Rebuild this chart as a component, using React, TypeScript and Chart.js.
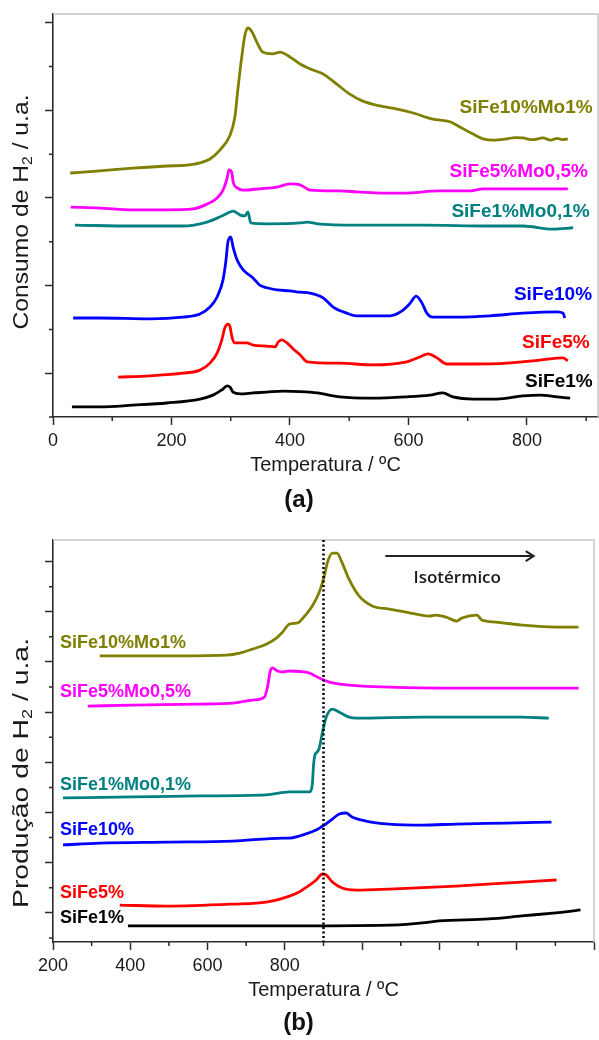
import React, { useEffect, useRef } from 'react';
import { Chart, registerables } from 'chart.js';

Chart.register(...registerables);

const FONT = "'Liberation Sans', Arial, Helvetica, sans-serif";

// ---------------- Panel (a): H2 consumption (TPR) ----------------
const aTempSiFe10Mo1 = [29, 79, 135, 192, 226, 248, 265, 282, 299, 307, 312, 319, 324, 329, 336, 344, 354, 371, 383, 400, 417, 439, 456, 479, 501, 523, 552, 581, 608, 641, 670, 687, 709, 726, 743, 766, 780, 793, 810, 827, 840, 851, 860, 869];
const aValSiFe10Mo1 = [5.57, 5.62, 5.68, 5.73, 5.75, 5.8, 5.89, 6.1, 6.44, 6.85, 7.47, 8.26, 8.72, 8.88, 8.79, 8.56, 8.33, 8.29, 8.33, 8.22, 8.06, 7.92, 7.83, 7.6, 7.37, 7.21, 7.1, 7.03, 6.94, 6.8, 6.74, 6.62, 6.46, 6.35, 6.32, 6.35, 6.38, 6.37, 6.33, 6.37, 6.32, 6.36, 6.33, 6.35];

const aTempSiFe5Mo05 = [30, 79, 135, 192, 236, 260, 277, 287, 294, 297, 302, 304, 311, 321, 349, 378, 400, 417, 434, 484, 513, 557, 591, 653, 704, 726, 793, 869];
const aValSiFe5Mo05 = [4.79, 4.77, 4.73, 4.73, 4.75, 4.86, 5.0, 5.18, 5.46, 5.64, 5.57, 5.37, 5.23, 5.18, 5.21, 5.25, 5.32, 5.3, 5.18, 5.16, 5.14, 5.11, 5.11, 5.16, 5.16, 5.21, 5.21, 5.21];

const aTempSiFe1Mo01 = [37, 135, 219, 260, 282, 299, 304, 316, 324, 329, 334, 361, 417, 429, 446, 513, 624, 738, 793, 844, 878];
const aValSiFe1Mo01 = [4.38, 4.36, 4.36, 4.45, 4.57, 4.68, 4.7, 4.61, 4.59, 4.68, 4.43, 4.41, 4.43, 4.45, 4.41, 4.38, 4.38, 4.36, 4.36, 4.29, 4.32];

const aTempSiFe10 = [34, 79, 164, 219, 248, 265, 277, 287, 292, 295, 300, 304, 311, 321, 338, 349, 361, 378, 400, 417, 434, 456, 473, 496, 513, 569, 591, 603, 613, 623, 631, 641, 682, 738, 793, 851, 861, 864];
const aValSiFe10 = [2.26, 2.26, 2.24, 2.28, 2.35, 2.51, 2.74, 3.13, 3.58, 3.97, 4.11, 3.88, 3.58, 3.36, 3.17, 3.01, 2.95, 2.9, 2.88, 2.85, 2.83, 2.72, 2.51, 2.37, 2.31, 2.31, 2.44, 2.6, 2.76, 2.6, 2.37, 2.28, 2.28, 2.31, 2.37, 2.4, 2.37, 2.26];

const aTempSiFe5 = [110, 164, 219, 248, 265, 277, 285, 290, 295, 299, 302, 307, 327, 338, 361, 375, 380, 386, 395, 405, 417, 429, 484, 540, 597, 619, 633, 648, 665, 709, 766, 822, 861, 869];
const aValSiFe5 = [0.91, 0.94, 1.0, 1.07, 1.23, 1.46, 1.76, 2.03, 2.12, 2.05, 1.83, 1.69, 1.69, 1.64, 1.62, 1.6, 1.71, 1.76, 1.69, 1.56, 1.42, 1.26, 1.23, 1.19, 1.26, 1.37, 1.44, 1.35, 1.21, 1.21, 1.23, 1.3, 1.35, 1.28];

const aTempSiFe1 = [32, 79, 135, 192, 248, 270, 285, 294, 299, 304, 316, 338, 361, 388, 417, 446, 484, 540, 597, 636, 658, 675, 709, 749, 793, 822, 851, 873];
const aValSiFe1 = [0.23, 0.23, 0.27, 0.32, 0.41, 0.5, 0.62, 0.71, 0.68, 0.57, 0.53, 0.55, 0.57, 0.59, 0.58, 0.55, 0.46, 0.43, 0.46, 0.5, 0.55, 0.46, 0.41, 0.41, 0.48, 0.5, 0.46, 0.43];

const aXMajor = [0, 200, 400, 600, 800];
const aXMinor = [100, 300, 500, 700, 900];
const aYMajor = [1, 3, 5, 7, 9];
const aYMinor = [0, 2, 4, 6, 8];

// ---------------- Panel (b): H2 production ----------------
const bTempSiFe10Mo1 = [321, 406, 535, 649, 683, 716, 752, 778, 794, 812, 830, 837, 855, 871, 889, 902, 910, 923, 935, 948, 966, 992, 1026, 1070, 1114, 1173, 1191, 1217, 1245, 1258, 1297, 1310, 1346, 1413, 1501, 1560];
const bValSiFe10Mo1 = [11.24, 11.24, 11.24, 11.27, 11.35, 11.51, 11.71, 11.95, 12.19, 12.51, 12.55, 12.59, 12.9, 13.23, 13.78, 14.42, 14.96, 15.34, 15.34, 14.96, 14.3, 13.63, 13.23, 13.11, 12.99, 12.83, 12.87, 12.79, 12.63, 12.75, 12.87, 12.67, 12.59, 12.47, 12.39, 12.39];

const bTempSiFe5Mo05 = [290, 406, 579, 665, 716, 747, 755, 763, 768, 781, 794, 812, 837, 863, 889, 915, 966, 1070, 1243, 1560];
const bValSiFe5Mo05 = [9.24, 9.28, 9.32, 9.36, 9.48, 9.6, 10.0, 10.68, 10.76, 10.64, 10.6, 10.64, 10.62, 10.56, 10.36, 10.2, 10.08, 10.0, 9.96, 9.96];

const bTempSiFe1Mo01 = [226, 406, 579, 752, 812, 863, 871, 874, 878, 883, 889, 897, 907, 923, 941, 966, 985, 1155, 1328, 1413, 1483];
const bValSiFe1Mo01 = [5.58, 5.62, 5.66, 5.7, 5.82, 5.82, 6.1, 6.85, 7.3, 7.4, 7.57, 8.17, 8.8, 9.12, 9.0, 8.8, 8.76, 8.8, 8.8, 8.8, 8.76];

const bTempSiFe10 = [226, 321, 494, 665, 794, 812, 837, 845, 881, 902, 923, 941, 959, 974, 1010, 1070, 1155, 1243, 1372, 1490];
const bValSiFe10 = [3.71, 3.78, 3.82, 3.86, 3.98, 3.98, 4.06, 4.1, 4.3, 4.5, 4.74, 4.94, 4.98, 4.82, 4.66, 4.54, 4.5, 4.54, 4.58, 4.62];

const bTempSiFe5 = [373, 494, 665, 752, 812, 837, 845, 881, 897, 907, 923, 948, 985, 1070, 1243, 1413, 1503];
const bValSiFe5 = [1.31, 1.27, 1.35, 1.43, 1.67, 1.83, 1.91, 2.31, 2.55, 2.51, 2.23, 1.99, 1.91, 1.95, 2.07, 2.23, 2.31];

const bTempSiFe1 = [394, 579, 837, 1095, 1155, 1199, 1328, 1413, 1501, 1526, 1565];
const bValSiFe1 = [0.48, 0.48, 0.48, 0.52, 0.6, 0.68, 0.76, 0.88, 1.0, 1.04, 1.12];

const bXMajor = [200, 400, 600, 800, 1000, 1200, 1400, 1600];
const bXLabels = [200, 400, 600, 800];
const bXMinor = [300, 500, 700, 900, 1100, 1300, 1500];
const bYMajor = [1, 3, 5, 7, 9, 11, 13, 15];
const bYMinor = [0, 2, 4, 6, 8, 10, 12, 14];

const OLIVE = '#808000';
const MAGENTA = '#ff00ff';
const TEAL = '#008080';
const BLUE = '#0000ff';
const RED = '#ff0000';
const BLACK = '#000000';
const AXIS = '#2b2b2b';

const seriesA = [
  { name: 'SiFe10%Mo1%', t: aTempSiFe10Mo1, v: aValSiFe10Mo1, color: OLIVE, lx: 911, ly: 7.05 },
  { name: 'SiFe5%Mo0,5%', t: aTempSiFe5Mo05, v: aValSiFe5Mo05, color: MAGENTA, lx: 903, ly: 5.59 },
  { name: 'SiFe1%Mo0,1%', t: aTempSiFe1Mo01, v: aValSiFe1Mo01, color: TEAL, lx: 906, ly: 4.68 },
  { name: 'SiFe10%', t: aTempSiFe10, v: aValSiFe10, color: BLUE, lx: 910, ly: 2.79 },
  { name: 'SiFe5%', t: aTempSiFe5, v: aValSiFe5, color: RED, lx: 906, ly: 1.69 },
  { name: 'SiFe1%', t: aTempSiFe1, v: aValSiFe1, color: BLACK, lx: 911, ly: 0.8 },
];

const seriesB = [
  { name: 'SiFe10%Mo1%', t: bTempSiFe10Mo1, v: bValSiFe10Mo1, color: OLIVE, lx: 218, ly: 11.75 },
  { name: 'SiFe5%Mo0,5%', t: bTempSiFe5Mo05, v: bValSiFe5Mo05, color: MAGENTA, lx: 218, ly: 9.8 },
  { name: 'SiFe1%Mo0,1%', t: bTempSiFe1Mo01, v: bValSiFe1Mo01, color: TEAL, lx: 218, ly: 6.1 },
  { name: 'SiFe10%', t: bTempSiFe10, v: bValSiFe10, color: BLUE, lx: 218, ly: 4.3 },
  { name: 'SiFe5%', t: bTempSiFe5, v: bValSiFe5, color: RED, lx: 218, ly: 1.79 },
  { name: 'SiFe1%', t: bTempSiFe1, v: bValSiFe1, color: BLACK, lx: 218, ly: 0.8 },
];

function drawYTitle(ctx: CanvasRenderingContext2D, cx: number, cy: number, before: string, sub: string, after: string, size: number, targetLen: number) {
  ctx.save();
  ctx.translate(cx, cy);
  ctx.rotate(-Math.PI / 2);
  const big = `${size}px ${FONT}`;
  const small = `${Math.round(size * 0.62)}px ${FONT}`;
  ctx.font = big;
  const w1 = ctx.measureText(before).width;
  const w3 = ctx.measureText(after).width;
  ctx.font = small;
  const w2 = ctx.measureText(sub).width;
  const total = w1 + w2 + w3;
  ctx.scale(targetLen / total, 1);
  ctx.fillStyle = '#1a1a1a';
  ctx.textBaseline = 'alphabetic';
  ctx.textAlign = 'left';
  const base = size * 0.36;
  let x = -total / 2;
  ctx.font = big;
  ctx.fillText(before, x, base);
  x += w1;
  ctx.font = small;
  ctx.fillText(sub, x, base + size * 0.2);
  x += w2;
  ctx.font = big;
  ctx.fillText(after, x, base);
  ctx.restore();
}

function makeDecor(p: any) {
  return {
    id: 'decor',
    afterDatasetsDraw(chart: any) {
      const { ctx, chartArea: ca, scales } = chart;
      const xs = scales.x;
      const ys = scales.y;
      ctx.save();
      // light frame top & right
      ctx.strokeStyle = '#c6c6c6';
      ctx.lineWidth = 1.5;
      ctx.beginPath();
      ctx.moveTo(ca.left, ca.top);
      ctx.lineTo(ca.right, ca.top);
      ctx.lineTo(ca.right, ca.bottom);
      ctx.stroke();
      // minor ticks
      ctx.strokeStyle = AXIS;
      ctx.lineWidth = 1.5;
      ctx.beginPath();
      for (const v of p.xMinor) {
        const px = xs.getPixelForValue(v);
        ctx.moveTo(px, ca.bottom);
        ctx.lineTo(px, ca.bottom + 4);
      }
      for (const v of p.yMinor) {
        const py = ys.getPixelForValue(v);
        ctx.moveTo(ca.left - 4, py);
        ctx.lineTo(ca.left, py);
      }
      ctx.stroke();
      // series labels
      ctx.font = `bold ${p.labelSize}px ${FONT}`;
      ctx.textBaseline = 'middle';
      ctx.textAlign = p.labelAlign;
      for (const s of p.series) {
        ctx.fillStyle = s.color;
        ctx.fillText(s.name, xs.getPixelForValue(s.lx), ys.getPixelForValue(s.ly));
      }
      // extras for panel b
      if (p.isoLine != null) {
        const px = xs.getPixelForValue(p.isoLine);
        ctx.strokeStyle = '#000';
        ctx.lineWidth = 2.5;
        ctx.setLineDash([2, 2.5]);
        ctx.beginPath();
        ctx.moveTo(px, ca.top);
        ctx.lineTo(px, ca.bottom);
        ctx.stroke();
        ctx.setLineDash([]);
        // arrow
        const x1 = xs.getPixelForValue(p.arrow[0]);
        const x2 = xs.getPixelForValue(p.arrow[1]);
        const ay = ys.getPixelForValue(p.arrow[2]);
        ctx.strokeStyle = '#222';
        ctx.lineWidth = 2;
        ctx.beginPath();
        ctx.moveTo(x1, ay);
        ctx.lineTo(x2, ay);
        ctx.moveTo(x2 - 8, ay - 5);
        ctx.lineTo(x2, ay);
        ctx.lineTo(x2 - 8, ay + 5);
        ctx.stroke();
        ctx.fillStyle = '#1a1a1a';
        ctx.font = `600 17px 'Open Sans', ${FONT}`;
        ctx.textAlign = 'center';
        ctx.textBaseline = 'middle';
        ctx.fillText('Isotérmico', xs.getPixelForValue(p.isoText[0]), ys.getPixelForValue(p.isoText[1]));
      }
      drawYTitle(ctx, 20, p.yTitleCy, p.yTitle[0], p.yTitle[1], p.yTitle[2], 22, p.yTitleLen);
      ctx.restore();
    },
  };
}

function buildConfig(p: any) {
  const axisGrid = {
    display: true,
    drawOnChartArea: false,
    drawTicks: true,
    tickLength: 8,
    tickColor: AXIS,
    tickWidth: 1.5,
  };
  return {
    type: 'line',
    data: {
      datasets: p.series.map((s: any) => ({
        label: s.name,
        data: s.t.map((t: number, i: number) => ({ x: t, y: s.v[i] })),
        borderColor: s.color,
        backgroundColor: s.color,
        borderWidth: 2.8,
        pointRadius: 0,
        fill: false,
        cubicInterpolationMode: 'monotone',
      })),
    },
    options: {
      responsive: false,
      animation: false,
      devicePixelRatio: 1,
      layout: { padding: { top: p.padTop, right: p.padRight, left: 0, bottom: 0 } },
      plugins: {
        legend: { display: false },
        tooltip: { enabled: false },
        title: {
          display: true,
          text: p.panel,
          position: 'bottom',
          color: '#111',
          font: { family: FONT, size: 24, weight: 'bold', lineHeight: 1.2 },
          padding: { top: 0, bottom: p.panelPadBottom },
        },
      },
      scales: {
        x: {
          type: 'linear',
          min: p.xMin,
          max: p.xMax,
          afterBuildTicks: (s: any) => {
            s.ticks = p.xMajor.map((v: number) => ({ value: v }));
          },
          afterFit: (s: any) => {
            s.height = p.xAxisHeight;
          },
          ticks: {
            autoSkip: false,
            maxRotation: 0,
            padding: 5,
            color: '#1a1a1a',
            font: { family: FONT, size: 18 },
            callback: (v: number) => (p.xLabels.includes(v) ? String(v) : ''),
          },
          grid: axisGrid,
          border: { display: true, color: AXIS, width: 1.6 },
          title: {
            display: true,
            text: 'Temperatura / ºC',
            color: '#1a1a1a',
            font: { family: FONT, size: 20, lineHeight: 1.2 },
            padding: { top: 0, bottom: p.xTitlePad },
          },
        },
        y: {
          type: 'linear',
          min: p.yMin,
          max: p.yMax,
          afterBuildTicks: (s: any) => {
            s.ticks = p.yMajor.map((v: number) => ({ value: v }));
          },
          afterFit: (s: any) => {
            s.width = 53;
          },
          ticks: { display: false },
          grid: axisGrid,
          border: { display: true, color: AXIS, width: 1.6 },
        },
      },
    },
    plugins: [makeDecor(p)],
  };
}

const panelA = {
  panel: '(a)',
  series: seriesA,
  padTop: 14,
  padRight: 1,
  panelPadBottom: 10.6,
  xAxisHeight: 68.6,
  xTitlePad: 8.6,
  xMin: 0,
  xMax: 920,
  xMajor: aXMajor,
  xLabels: aXMajor,
  xMinor: aXMinor,
  yMin: 0,
  yMax: 9.2,
  yMajor: aYMajor,
  yMinor: aYMinor,
  labelSize: 19,
  labelAlign: 'right',
  yTitle: ['Consumo de H', '2', ' / u.a.'],
  yTitleCy: 212,
  yTitleLen: 235,
  isoLine: null,
};

const panelB = {
  panel: '(b)',
  series: seriesB,
  padTop: 15,
  padRight: 2,
  panelPadBottom: 2.6,
  xAxisHeight: 66.6,
  xTitlePad: 6.6,
  xMin: 200,
  xMax: 1600,
  xMajor: bXMajor,
  xLabels: bXLabels,
  xMinor: bXMinor,
  yMin: -0.16,
  yMax: 15.86,
  yMajor: bYMajor,
  yMinor: bYMinor,
  labelSize: 18,
  labelAlign: 'left',
  yTitle: ['Produção de H', '2', ' / u.a.'],
  yTitleCy: 248,
  yTitleLen: 270,
  isoLine: 900,
  arrow: [1060, 1444, 15.22],
  isoText: [1246, 14.34],
};

function ChartPanel({ params, height }: { params: any; height: number }) {
  const ref = useRef<HTMLCanvasElement>(null);
  useEffect(() => {
    const chart = new Chart(ref.current as HTMLCanvasElement, buildConfig(params) as any);
    return () => chart.destroy();
  }, [params]);
  return (
    <canvas
      ref={ref}
      width={599}
      height={height}
      style={{ display: 'block', width: 599, height }}
    />
  );
}

export default function App() {
  useEffect(() => {
    document.body.style.margin = '0';
    document.body.style.background = '#ffffff';
  }, []);
  return (
    <div style={{ width: 599, background: '#ffffff' }}>
      <ChartPanel params={panelA} height={525} />
      <ChartPanel params={panelB} height={515} />
    </div>
  );
}
